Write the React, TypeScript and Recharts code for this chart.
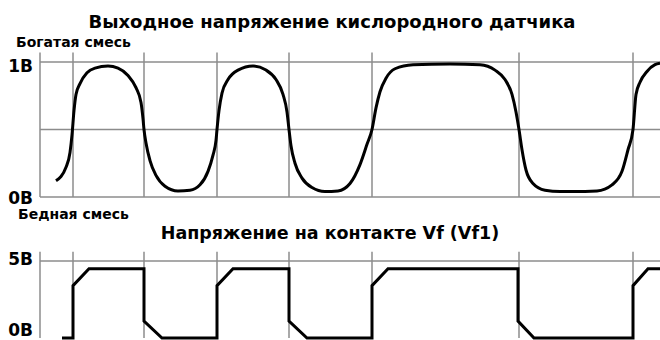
import React from 'react';
import { LineChart, Line, XAxis, YAxis, ReferenceLine } from 'recharts';

// oxygen sensor output, time in arbitrary units
const o2Time = [16, 26, 30, 32, 34, 36, 40, 47, 55, 68, 78, 88, 96, 101, 103, 104, 106, 110, 116, 125, 138, 150, 160, 168, 173, 176, 177, 179, 182, 188, 198, 213, 226, 236, 243, 247, 249, 251, 255, 262, 272, 285, 298, 310, 320, 327, 332, 336, 340, 346, 355, 373, 410, 440, 455, 465, 472, 476, 479, 482, 486, 493, 505, 520, 533, 557, 572, 582, 588, 593, 596, 600, 607, 615, 620];
const o2Volts = [0.12, 0.22, 0.33, 0.46, 0.64, 0.76, 0.84, 0.92, 0.955, 0.97, 0.955, 0.9, 0.81, 0.7, 0.58, 0.5, 0.4, 0.27, 0.16, 0.08, 0.045, 0.05, 0.09, 0.19, 0.31, 0.42, 0.5, 0.64, 0.77, 0.87, 0.94, 0.97, 0.94, 0.87, 0.76, 0.63, 0.5, 0.38, 0.25, 0.14, 0.07, 0.04, 0.045, 0.1, 0.24, 0.39, 0.5, 0.66, 0.78, 0.88, 0.95, 0.98, 0.985, 0.98, 0.94, 0.87, 0.76, 0.63, 0.5, 0.35, 0.2, 0.1, 0.05, 0.04, 0.04, 0.045, 0.09, 0.19, 0.35, 0.5, 0.76, 0.85, 0.93, 0.98, 0.99];

// Vf contact voltage
const vfTime = [22, 33, 33, 49, 104, 104, 122, 177, 177, 193, 249, 249, 267, 332, 332, 348, 478, 478, 494, 593, 593, 608, 620];
const vfVolts = [0, 0, 3.4, 4.5, 4.5, 1.1, 0, 0, 3.4, 4.5, 4.5, 1.1, 0, 0, 3.4, 4.5, 4.5, 1.1, 0, 0, 3.4, 4.5, 4.5];

// switching moments (vertical markers)
const markerTimes = [0, 33, 104, 177, 249, 332, 479, 593];

const o2Ticks = [0, 1];
const o2TickLabels = ['0В', '1В'];
const vfTicks = [0, 5];
const vfTickLabels = ['0В', '5В'];

const o2Data = o2Time.map((t, i) => ({ t, v: o2Volts[i] }));
const vfData = vfTime.map((t, i) => ({ t, v: vfVolts[i] }));

const FONT = '"DejaVu Sans", Verdana, sans-serif';
const GRID = '#8c8c8c';

const makeTick = (ticks: number[], labels: string[], dys: number[]) => (props: any) => {
  const { y, payload } = props;
  const i = ticks.indexOf(Number(payload.value));
  return (
    <text x={33} y={y} dy={dys[i]} textAnchor="end" fontFamily={FONT} fontSize={17} fontWeight="bold" fill="#000">
      {labels[i]}
    </text>
  );
};

export default function App() {
  return (
    <div style={{ position: 'absolute', left: 0, top: 0, width: 660, height: 340, background: '#fff', overflow: 'hidden' }}>
      <div style={{ position: 'absolute', left: 0, top: 0 }}>
        <LineChart width={660} height={212} data={o2Data} margin={{ top: 62, right: 0, bottom: 15, left: 0 }}>
          <XAxis dataKey="t" type="number" domain={[0, 620]} hide />
          <YAxis
            domain={[0, 1]}
            ticks={o2Ticks}
            interval={0}
            width={40}
            axisLine={false}
            tickLine={false}
            tick={makeTick(o2Ticks, o2TickLabels, [7, 10])}
          />
          <ReferenceLine y={1} stroke={GRID} strokeWidth={1.5} />
          <ReferenceLine y={0.5} stroke={GRID} strokeWidth={1.5} />
          <ReferenceLine y={0} stroke={GRID} strokeWidth={1.5} />
          {markerTimes.map((m) => (
            <ReferenceLine
              key={m}
              segment={[{ x: m, y: 0 }, { x: m, y: 1.07 }]}
              ifOverflow="visible"
              stroke={GRID}
              strokeWidth={1.5}
            />
          ))}
          <Line type="monotone" dataKey="v" stroke="#000" strokeWidth={3} dot={false} isAnimationActive={false} />
        </LineChart>
      </div>
      <div style={{ position: 'absolute', left: 0, top: 200 }}>
        <LineChart width={660} height={140} data={vfData} margin={{ top: 61, right: 0, bottom: 2, left: 0 }}>
          <XAxis dataKey="t" type="number" domain={[0, 620]} hide />
          <YAxis
            domain={[0, 5]}
            ticks={vfTicks}
            interval={0}
            width={40}
            axisLine={false}
            tickLine={false}
            tick={makeTick(vfTicks, vfTickLabels, [-2, 4])}
          />
          <ReferenceLine y={5} stroke={GRID} strokeWidth={1.5} />
          {markerTimes.map((m) => (
            <ReferenceLine
              key={m}
              segment={[{ x: m, y: 0 }, { x: m, y: 5.6 }]}
              ifOverflow="visible"
              stroke={GRID}
              strokeWidth={1.5}
            />
          ))}
          <Line type="linear" dataKey="v" stroke="#000" strokeWidth={3} dot={false} isAnimationActive={false} />
        </LineChart>
      </div>
      <svg width={660} height={340} style={{ position: 'absolute', left: 0, top: 0, pointerEvents: 'none' }}>
        <g fontFamily={FONT} fontWeight="bold" fill="#000">
          <text x={332} y={28} fontSize={18} textAnchor="middle">Выходное напряжение кислородного датчика</text>
          <text x={16} y={47} fontSize={14}>Богатая смесь</text>
          <text x={18} y={219} fontSize={14}>Бедная смесь</text>
          <text x={330} y={239} fontSize={17.5} textAnchor="middle">Напряжение на контакте Vf (Vf1)</text>
        </g>
      </svg>
    </div>
  );
}
